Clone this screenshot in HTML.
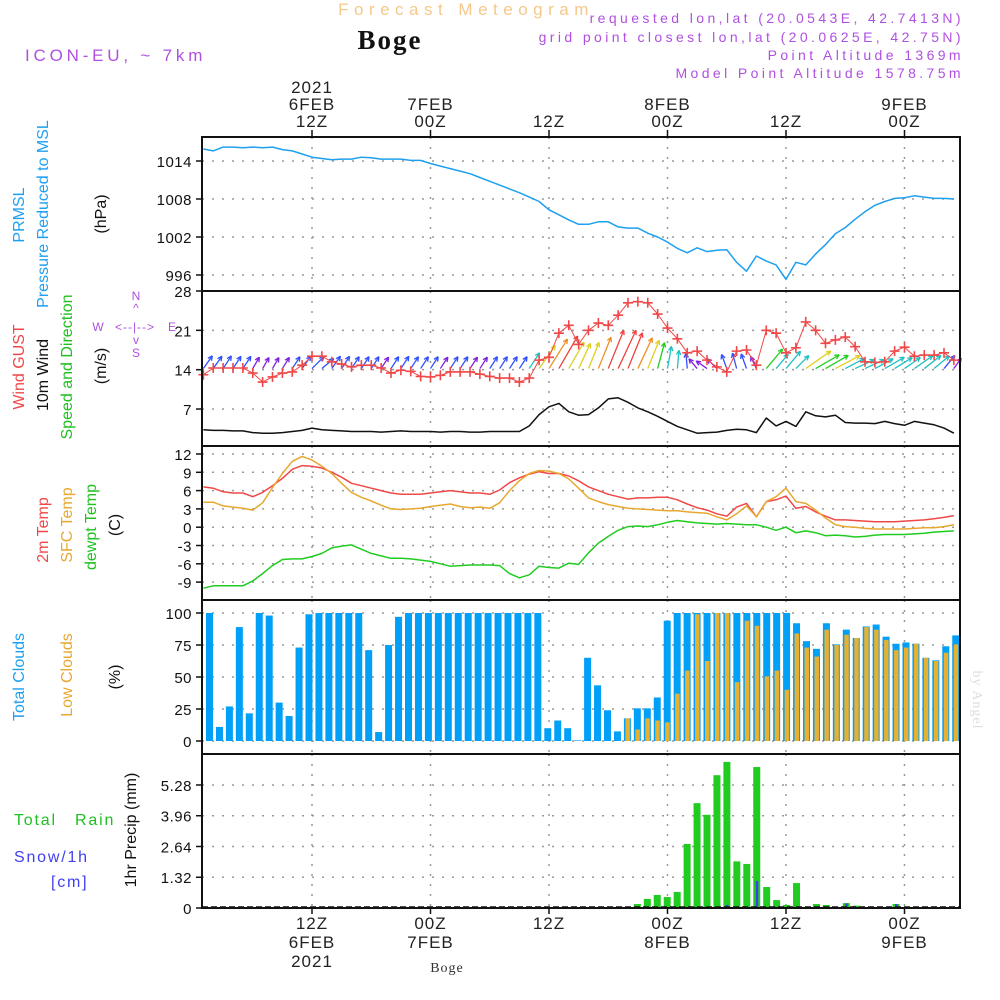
<!DOCTYPE html>
<html>
<head>
<meta charset="utf-8">
<style>
html,body{margin:0;padding:0;background:#fff;}
svg{display:block;}
text{font-family:"Liberation Sans",sans-serif;}
.lbl{font-size:16px;letter-spacing:0px;}
.hl{font-size:16px;letter-spacing:1.8px;}
.tick{font-size:15px;fill:#111;text-anchor:end;letter-spacing:0.5px;}
.tl{font-size:17px;fill:#222;text-anchor:middle;letter-spacing:1px;}
.hdr{font-size:14px;fill:#b050e0;letter-spacing:3.4px;text-anchor:end;}
</style>
</head>
<body>
<svg id="chart" width="1000" height="1000" viewBox="0 0 1000 1000" xmlns="http://www.w3.org/2000/svg">
  <text x="466" y="15" text-anchor="middle" style="font-size:17px;fill:#f5c88a;letter-spacing:5.5px">Forecast Meteogram</text>
  <text x="390" y="49" text-anchor="middle" style="font-family:'Liberation Serif',serif;font-size:27px;font-weight:bold;fill:#111;letter-spacing:2px">Boge</text>
  <text x="964" y="23" class="hdr">requested lon,lat (20.0543E, 42.7413N)</text>
  <text x="964" y="42" class="hdr">grid point closest lon,lat (20.0625E, 42.75N)</text>
  <text x="964" y="60" class="hdr">Point Altitude 1369m</text>
  <text x="964" y="78" class="hdr">Model Point Altitude 1578.75m</text>
  <text x="25" y="61" style="font-size:17px;fill:#b050e0;letter-spacing:3.8px">ICON-EU, ~ 7km</text>

  <!-- left axis titles -->
  <text transform="translate(24,215) rotate(-90)" text-anchor="middle" class="lbl" style="fill:#1ea0f0">PRMSL</text>
  <text transform="translate(48,214) rotate(-90)" text-anchor="middle" class="lbl" style="fill:#1ea0f0">Pressure Reduced to MSL</text>
  <text transform="translate(106,214) rotate(-90)" text-anchor="middle" class="lbl" style="fill:#111">(hPa)</text>

  <text transform="translate(24,367) rotate(-90)" text-anchor="middle" class="lbl" style="fill:#f04848">Wind GUST</text>
  <text transform="translate(48,375) rotate(-90)" text-anchor="middle" class="lbl" style="fill:#111">10m Wind</text>
  <text transform="translate(72,367) rotate(-90)" text-anchor="middle" class="lbl" style="fill:#20c020">Speed and Direction</text>
  <text transform="translate(106,366) rotate(-90)" text-anchor="middle" class="lbl" style="fill:#111">(m/s)</text>
  <g style="fill:#b050e0;font-size:12px">
    <text x="136" y="300" text-anchor="middle">N</text>
    <text x="136" y="312" text-anchor="middle">^</text>
    <text x="98" y="331" text-anchor="middle">W</text>
    <text x="135" y="331" text-anchor="middle" style="letter-spacing:1px">&lt;--|--&gt;</text>
    <text x="172" y="331" text-anchor="middle">E</text>
    <text x="136" y="344" text-anchor="middle">v</text>
    <text x="136" y="357" text-anchor="middle">S</text>
  </g>

  <text transform="translate(48,530) rotate(-90)" text-anchor="middle" class="lbl" style="fill:#f04848">2m Temp</text>
  <text transform="translate(72,525) rotate(-90)" text-anchor="middle" class="lbl" style="fill:#e8a830">SFC Temp</text>
  <text transform="translate(96,527) rotate(-90)" text-anchor="middle" class="lbl" style="fill:#20c020">dewpt Temp</text>
  <text transform="translate(120,525) rotate(-90)" text-anchor="middle" class="lbl" style="fill:#111">(C)</text>

  <text transform="translate(24,677) rotate(-90)" text-anchor="middle" class="lbl" style="fill:#1ea0f0">Total Clouds</text>
  <text transform="translate(72,675) rotate(-90)" text-anchor="middle" class="lbl" style="fill:#e8a830">Low Clouds</text>
  <text transform="translate(120,677) rotate(-90)" text-anchor="middle" class="lbl" style="fill:#111">(%)</text>

  <text x="14" y="825" class="hl" style="fill:#20c020;word-spacing:12px">Total  Rain</text>
  <text x="14" y="862" class="hl" style="fill:#4040f0">Snow/1h</text>
  <text x="51" y="887" class="hl" style="fill:#4040f0">[cm]</text>
  <text transform="translate(136,830) rotate(-90)" text-anchor="middle" class="lbl" style="fill:#111">1hr Precip (mm)</text>

  <text transform="translate(973,700) rotate(90)" text-anchor="middle" style="font-family:'Liberation Serif',serif;font-size:14px;fill:#ddd;letter-spacing:1px">by Angel</text>
  <text x="447" y="972" text-anchor="middle" style="font-family:'Liberation Serif',serif;font-size:14px;fill:#333;letter-spacing:1px">Boge</text>

  <g id="grid"></g>
  <g id="marks"></g>
  <g id="frames"></g>
  <g id="ticks"></g>
</svg>
<script>
// ---- data (hourly, hour offset from 00Z 6FEB 2021) ----
const hours = Array.from({length:77},(_,i)=>i+1);
const pressure = [1015.9,1015.6,1016.2,1016.2,1016.1,1016.2,1016.1,1016.2,1015.8,1015.6,
1015.1,1014.6,1014.4,1014.2,1014.3,1014.3,1014.6,1014.5,1014.3,1014.3,
1014.3,1014.1,1014.1,1013.6,1013.2,1012.8,1012.4,1012.0,1011.4,1010.8,
1010.2,1009.6,1009.0,1008.3,1007.6,1006.3,1005.5,1004.7,1004.0,1004.0,
1004.4,1004.4,1003.6,1003.4,1003.4,1002.6,1002.0,1001.2,1000.2,999.5,
1000.3,999.7,999.9,1000.0,998.0,996.6,999.0,998.2,997.6,995.3,
998.0,997.6,999.3,1000.8,1002.5,1003.5,1004.8,1006.0,1007.0,1007.6,
1008.1,1008.2,1008.5,1008.3,1008.1,1008.1,1008.0];
const windSpeed = [3.3,3.2,3.2,3.1,3.1,2.8,2.7,2.7,2.8,3.0,
3.2,3.6,3.3,3.2,3.1,3.0,3.0,3.0,2.9,3.0,
3.1,3.0,3.0,3.0,2.9,3.0,3.0,2.9,2.9,3.0,
3.0,3.0,3.0,4.0,6.0,7.4,8.0,6.5,5.9,6.0,
7.2,8.8,9.0,8.2,7.2,6.5,5.7,4.8,3.9,3.3,
2.7,2.8,2.9,3.2,3.4,3.3,2.8,5.4,4.0,4.8,
3.9,6.5,5.8,5.6,5.9,4.6,4.5,4.5,4.4,4.8,
4.4,4.1,4.8,4.5,4.2,3.6,2.7];
const windGust = [13.1,14.3,14.3,14.3,14.3,13.4,11.8,12.7,13.4,13.6,
14.8,16.4,16.4,15.4,15.0,14.5,14.8,14.8,14.3,13.4,
13.9,13.7,12.8,12.7,13.0,13.6,13.6,13.6,13.2,12.8,
12.5,12.5,11.8,12.5,15.7,16.2,20.5,21.9,18.5,21.0,
22.3,21.9,23.7,25.9,26.1,25.9,23.9,21.4,19.5,17.0,
17.3,15.7,14.5,13.6,17.3,17.5,14.8,21.0,20.5,17.0,
17.9,22.5,21.0,18.7,19.3,19.8,18.1,15.4,15.3,15.4,
17.3,18.0,16.4,16.6,16.6,17.0,15.7];
const windToDeg = [35,35,33,33,33,30,30,30,32,33,
35,45,50,35,33,33,33,33,33,33,
33,33,33,33,33,33,33,33,33,33,
33,33,33,33,35,32,30,30,25,22,
22,22,25,22,25,22,15,10,5,355,
320,305,315,340,345,340,335,40,40,40,
45,55,60,60,62,62,65,65,62,60,
58,55,55,52,50,40,35];
const temp2m = [6.6,6.4,5.8,5.6,5.6,5.0,5.7,6.8,8.0,9.5,
10.1,10.0,9.7,9.0,8.2,7.2,6.8,6.4,6.0,5.6,
5.4,5.4,5.4,5.6,5.8,6.0,5.8,5.6,5.6,5.4,
6.1,7.3,8.1,8.7,9.1,8.8,8.8,8.4,7.6,6.6,
6.0,5.4,5.0,4.6,4.8,4.8,4.9,4.9,4.5,3.8,
3.2,2.8,2.2,1.8,3.3,3.9,1.7,4.2,4.5,5.1,
3.1,3.4,2.5,1.8,1.2,1.2,1.1,1.0,0.9,0.9,
0.9,1.0,1.1,1.2,1.4,1.6,1.9];
const tempSfc = [4.1,4.1,3.5,3.3,3.1,2.8,4.0,6.5,8.8,10.8,
11.6,11.0,10.0,8.8,7.2,5.7,4.9,4.3,3.6,3.0,
2.9,3.0,3.1,3.4,3.6,3.8,3.4,3.2,3.3,3.1,
4.0,6.0,7.6,8.8,9.3,9.2,8.8,7.9,6.4,4.8,
4.2,3.7,3.4,3.1,3.0,2.9,2.8,2.7,2.7,2.5,
2.4,2.3,1.7,1.2,2.2,3.5,1.7,4.2,5.0,6.4,
4.2,3.9,2.8,1.5,0.4,0.1,0.0,-0.2,-0.3,-0.3,
-0.3,-0.3,-0.2,-0.1,-0.1,0.1,0.4];
const dewpt = [-10.0,-9.6,-9.6,-9.6,-9.6,-8.8,-7.6,-6.3,-5.3,-5.2,
-5.2,-4.8,-4.3,-3.4,-3.1,-2.9,-3.6,-4.3,-4.7,-5.1,
-5.1,-5.2,-5.4,-5.6,-6.0,-6.4,-6.3,-6.2,-6.2,-6.2,
-6.3,-7.6,-8.3,-7.8,-6.4,-6.6,-6.7,-5.9,-6.1,-4.2,
-2.6,-1.5,-0.5,0.1,0.2,0.1,0.4,0.8,1.1,0.9,
0.7,0.6,0.5,0.6,0.5,0.4,0.4,0.0,-0.5,0.0,
-0.9,-0.6,-0.9,-1.4,-1.3,-1.4,-1.6,-1.5,-1.3,-1.2,
-1.2,-1.2,-1.1,-1.0,-0.8,-0.7,-0.6];
// bar series (76 hourly bars)
const totalCloud = [100,11,27,89,21.6,100,98,30,19.5,73,
99,100,100,100,100,100,71,7,75,97,
100,100,100,100,100,100,100,100,100,100,
100,100,100,100,10,16,10,0.5,65,43.5,
24,7.5,17.7,25.5,25.5,34,94,100,100,100,
100,100,100,100,100,100,100,100,100,92,
78,72,92,75.5,87,80.5,89.5,91,81.5,76,
77,76,65,63,74,82.5];
const lowCloud = [0,0,0,0,0,0,0,0,0,0,
0,0,0,0,0,0,0,0,0,0,
0,0,0,0,0,0,0,0,0,0,
0,0,0,0,0,0,0,0,0,0,
0,0,17.7,9,17.7,16,14.6,37,55,99,
62.5,100,100,46,94,90,50.5,55,40,84,
73,66,87,75,83,80.5,89,87,79,71,
73,76,65,62.5,69,75.5];
const rain = [0,0,0,0,0,0,0,0,0,0,
0,0,0,0,0,0,0,0,0,0,
0,0,0,0,0,0,0,0,0,0,
0,0,0,0,0,0,0,0,0,0,
0,0,0,0.17,0.39,0.56,0.47,0.69,2.75,4.5,
4.0,5.7,6.27,2.0,1.89,6.05,0.9,0.34,0.13,1.07,
0.04,0.17,0.13,0,0.21,0.1,0,0,0,0.17,
0.04,0,0,0,0,0];
const snow = [0,0,0,0,0,0,0,0,0,0,
0,0,0,0,0,0,0,0,0,0,
0,0,0,0,0,0,0,0,0,0,
0,0,0,0,0,0,0,0,0,0,
0,0,0,0,0,0,0,0,0,0,
0,0,0.13,0,0,1.16,0,0,0,0.04,
0,0,0.03,0,0.2,0.05,0,0,0,0.17,
0.04,0.02,0,0,0,0];
const pTicks = [1014,1008,1002,996];
const wTicks = [28,21,14,7];
const tTicks = [12,9,6,3,0,-3,-6,-9];
const cTicks = [100,75,50,25,0];
const rTicks = [5.28,3.96,2.64,1.32,0];
const timeTicks = [12,24,36,48,60,72];
const topLabels = [["2021","6FEB","12Z"],["","7FEB","00Z"],["","","12Z"],["","8FEB","00Z"],["","","12Z"],["","9FEB","00Z"]];
const bottomLabels = [["12Z","6FEB","2021"],["00Z","7FEB",""],["12Z","",""],["00Z","8FEB",""],["12Z","",""],["00Z","9FEB",""]];

// ---- axes ----
const L=202, R=960;
const panels=[[137,291],[291,446],[446,600],[600,754],[754,908]];
function xOf(h){return 312+(h-12)*9.875;}
function barX(k){return 206+k*9.95;}
function yP(p){return 161+(1014-p)*6.333;}
function yW(v){return 291+(28-v)*5.62;}
function yT(t){return 454+(12-t)*6.1;}
function yC(c){return 741-c*1.28;}
function yR(r){return 908-r*23.3;}

const NS="http://www.w3.org/2000/svg";
const grid=document.getElementById('grid'), marks=document.getElementById('marks'),
      frames=document.getElementById('frames'), ticksG=document.getElementById('ticks');
function el(tag,parent){const e=document.createElementNS(NS,tag);parent.appendChild(e);return e;}
function setA(e,o){for(const k in o)e.setAttribute(k,o[k]);}

// grid lines
panels.forEach((p,pi)=>{
  timeTicks.forEach(h=>{
    const g=el('line',grid);
    setA(g,{x1:xOf(h),x2:xOf(h),y1:p[0],y2:p[1],stroke:'#999','stroke-width':1.5,'stroke-dasharray':'2,8'});
    
    
  });
});
function hgrid(vals,fy,name,top){
  vals.forEach(v=>{
    const y=fy(v); if(Math.abs(y-top)<2) return;
    const g=el('line',grid);
    setA(g,{x1:L,x2:R,y1:y,y2:y,stroke:'#999','stroke-width':1.5,'stroke-dasharray':'2,8'});
    
    
  });
}
hgrid(pTicks,yP,'pressure-gridline',137);
hgrid(wTicks,yW,'wind-gridline',291);
hgrid(tTicks,yT,'temp-gridline',446);
hgrid(cTicks,yC,'cloud-gridline',600);
hgrid(rTicks.filter(v=>v>0),yR,'precip-gridline',754);

// tick labels
function ylabels(vals,fy,name){
  vals.forEach(v=>{
    const t=el('text',ticksG);
    setA(t,{x:192,y:fy(v)+6,class:'tick'});
    t.textContent=String(v);
    
    
    const tk=el('line',ticksG);
    setA(tk,{x1:196,x2:L,y1:fy(v),y2:fy(v),stroke:'#111','stroke-width':1.5});
    
    
  });
}
ylabels(pTicks,yP,'pressure-tick-label');
ylabels(wTicks,yW,'wind-tick-label');
ylabels(tTicks,yT,'temp-tick-label');
ylabels(cTicks,yC,'cloud-tick-label');
ylabels(rTicks,yR,'precip-tick-label');

timeTicks.forEach((h,i)=>{
  const x=xOf(h);
  const tk=el('line',ticksG);
  setA(tk,{x1:x,x2:x,y1:130,y2:137,stroke:'#111','stroke-width':1.5});
  
  
  const tb=el('line',ticksG);
  setA(tb,{x1:x,x2:x,y1:908,y2:914,stroke:'#111','stroke-width':1.5});
  
  
  topLabels[i].forEach((s,j)=>{
    if(!s) return;
    const t=el('text',ticksG);
    setA(t,{x:x,y:93+j*17,class:'tl'});
    t.textContent=s;
    
    
  });
  bottomLabels[i].forEach((s,j)=>{
    if(!s) return;
    const t=el('text',ticksG);
    setA(t,{x:x,y:929+j*19,class:'tl'});
    t.textContent=s;
    
    
  });
});

// ---- series ----
function poly(vals,fy,color,name,w){
  const pts=vals.map((v,i)=>xOf(hours[i]).toFixed(1)+','+fy(v).toFixed(1)).join(' ');
  const p=el('polyline',marks);
  setA(p,{points:pts,fill:'none',stroke:color,'stroke-width':w||1.5,'stroke-linejoin':'round'});
  
  
}
poly(pressure,yP,'#1ea0f0','pressure-line');

// clouds
totalCloud.forEach((v,k)=>{
  const r=el('rect',marks);
  setA(r,{x:barX(k),y:yC(v),width:7,height:Math.max(0,741-yC(v)),fill:'#00a0f8'});
  
  
});
lowCloud.forEach((v,k)=>{
  if(v<=0) return;
  const r=el('rect',marks);
  setA(r,{x:barX(k)+1.5,y:yC(v),width:4.5,height:741-yC(v),fill:'#e8b030'});
  
  
});

// precip
rain.forEach((v,k)=>{
  if(v<=0) return;
  const r=el('rect',marks);
  setA(r,{x:barX(k),y:yR(v),width:7,height:908-yR(v),fill:'#20cc20'});
  
  
});
snow.forEach((v,k)=>{
  if(v<=0) return;
  const r=el('rect',marks);
  setA(r,{x:barX(k)+2.5,y:yR(v),width:2.5,height:908-yR(v),fill:'#4040f0'});
  
  
});
const zl=el('line',marks);
setA(zl,{x1:L,x2:R,y1:907,y2:907,stroke:'#111','stroke-width':1.5,'stroke-dasharray':'6,3'});



// temperatures
poly(temp2m,yT,'#f04848','temp-2m-line');
poly(tempSfc,yT,'#e8a830','sfc-temp-line');
poly(dewpt,yT,'#20cc20','dewpoint-line');

// wind speed
poly(windSpeed,yW,'#111','wind-speed-line');

// wind arrows
function speedColor(v){
  if(v<3.0) return '#8020e0';
  if(v<3.7) return '#3050ff';
  if(v<4.9) return '#20c0c0';
  if(v<5.9) return '#20d020';
  if(v<6.8) return '#e0d020';
  if(v<7.8) return '#f09020';
  return '#f04040';
}
windSpeed.forEach((v,i)=>{
  const x0=xOf(hours[i]), y0=yW(14.2);
  const a=windToDeg[i]*Math.PI/180, Ln=v*4.7;
  const x1=x0+Ln*Math.sin(a), y1=y0-Ln*Math.cos(a);
  const c=speedColor(v);
  const g=el('g',marks);
  
  
  const ln=el('line',g);
  setA(ln,{x1:x0,y1:y0,x2:x1,y2:y1,stroke:c,'stroke-width':1.3});
  [-0.45,0.45].forEach(d=>{
    const b=a+Math.PI+d;
    const h=el('line',g);
    setA(h,{x1:x1,y1:y1,x2:x1+5*Math.sin(b),y2:y1-5*Math.cos(b),stroke:c,'stroke-width':1.3});
  });
});

// gust
poly(windGust,yW,'#f04848','gust-line',1);
windGust.forEach((v,i)=>{
  const x=xOf(hours[i]), y=yW(v);
  const p=el('path',marks);
  setA(p,{d:`M${x-5},${y}H${x+5}M${x},${y-5}V${y+5}`,stroke:'#f04848','stroke-width':1.6,fill:'none'});
  
  
});

// frames
panels.forEach((p,pi)=>{
  const r=el('rect',frames);
  setA(r,{x:L,y:p[0],width:R-L,height:p[1]-p[0],fill:'none',stroke:'#111','stroke-width':2});
  
  
});
</script>
</body>
</html>
